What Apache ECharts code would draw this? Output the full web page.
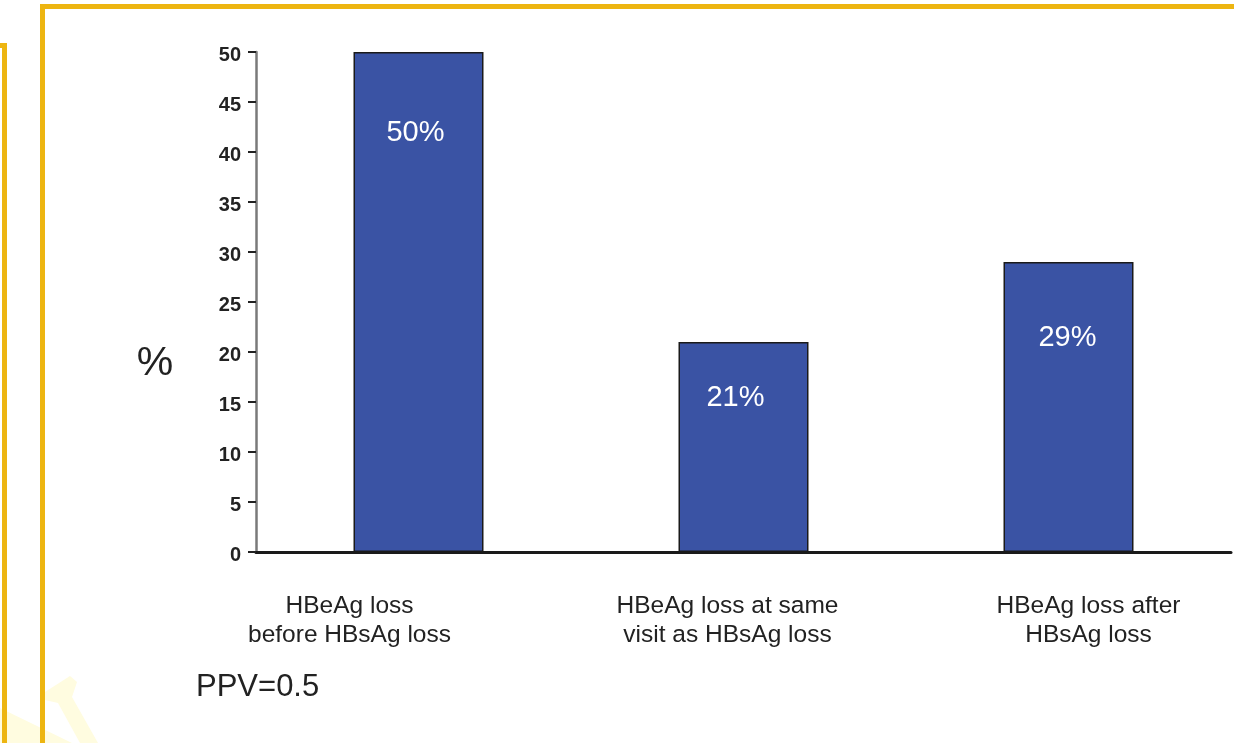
<!DOCTYPE html>
<html>
<head>
<meta charset="utf-8">
<script src="https://cdn.jsdelivr.net/npm/echarts@6/dist/echarts.min.js"></script>
<style>
html,body{margin:0;padding:0;background:#fff;}
#chart{width:1234px;height:743px;}
</style>
</head>
<body>
<div id="chart"></div>
<script>
const categories = ['HBeAg loss\nbefore HBsAg loss', 'HBeAg loss at same\nvisit as HBsAg loss', 'HBeAg loss after\nHBsAg loss'];
const values = [50, 21, 29];
const valueLabels = ['50%', '21%', '29%'];
const yTicks = {min: 0, max: 50, interval: 5};

// layout constants (pixel offsets, not data)
const labelOffsetsY = [81, 56, 76];
const labelOffsetsX = [-3, -8, -1];
const catLabelShiftX = [-69, -16, 20];

const chart = echarts.init(document.getElementById('chart'), null, {renderer: 'canvas'});
const yellow = '#EDB511';
const font = '"Liberation Sans", Arial, sans-serif';

const staticGraphics = [
  {type: 'polygon', silent: true, z: -10, shape: {points: [[0,708],[0,743],[72,743]]}, style: {fill: '#FFFCE0'}},
  {type: 'polygon', silent: true, z: -10, shape: {points: [[45,692],[70,676],[77,682],[72,697],[98,743],[80,743],[58,703],[45,700]]}, style: {fill: '#FFFCE0'}},
  {type: 'rect', silent: true, shape: {x: 40, y: 4, width: 1194, height: 5}, style: {fill: yellow}},
  {type: 'rect', silent: true, shape: {x: 40, y: 4, width: 5, height: 739}, style: {fill: yellow}},
  {type: 'rect', silent: true, shape: {x: 0, y: 43, width: 7, height: 5}, style: {fill: yellow}},
  {type: 'rect', silent: true, shape: {x: 2, y: 43, width: 5, height: 700}, style: {fill: yellow}},
  {type: 'text', silent: true, x: 155, y: 364, style: {text: '%', fontFamily: font, fontSize: 41, fill: '#222', align: 'center', verticalAlign: 'middle'}},
  {type: 'text', silent: true, x: 196, y: 687, style: {text: 'PPV=0.5', fontFamily: font, fontSize: 31, fill: '#222', align: 'left', verticalAlign: 'middle'}}
];

chart.setOption({
  backgroundColor: '#ffffff',
  animation: false,
  grid: {left: 256, right: 3, top: 52, bottom: 191, containLabel: false},
  xAxis: {
    type: 'category',
    data: categories,
    axisLine: {lineStyle: {color: '#1a1a1a', width: 3}},
    axisTick: {show: false},
    axisLabel: {show: false}
  },
  yAxis: {
    type: 'value',
    min: yTicks.min, max: yTicks.max, interval: yTicks.interval,
    splitLine: {show: false},
    axisLine: {show: true, lineStyle: {color: '#7a7a7a', width: 2.5}},
    axisTick: {show: true, length: 8, lineStyle: {color: '#222', width: 2}},
    axisLabel: {
      margin: 15,
      formatter: v => '{a|' + v + '}',
      rich: {a: {fontFamily: font, fontSize: 20, fontWeight: 'bold', color: '#222', padding: [6, 0, 0, 0]}}
    }
  },
  series: [{
    type: 'bar',
    barWidth: '40%',
    z: 1,
    itemStyle: {color: '#3A53A4', borderColor: '#1a1a1a', borderWidth: 1.5},
    data: values.map((v, i) => ({
      value: v,
      label: {
        show: true,
        position: ['50%', labelOffsetsY[i]],
        offset: [labelOffsetsX[i], 0],
        align: 'center',
        verticalAlign: 'middle',
        formatter: valueLabels[i],
        color: '#ffffff',
        fontFamily: font,
        fontSize: 29
      }
    }))
  }],
  graphic: staticGraphics
});

const baseY = chart.convertToPixel({yAxisIndex: 0}, 0);
const catTexts = categories.map((c, i) => {
  const cx = chart.convertToPixel({xAxisIndex: 0}, c);
  return {
    type: 'text', silent: true, x: cx + catLabelShiftX[i], y: baseY + 40,
    style: {text: c, fontFamily: font, fontSize: 24.5, lineHeight: 29, fill: '#222', align: 'center', verticalAlign: 'top'}
  };
});
chart.setOption({graphic: staticGraphics.concat(catTexts)}, {replaceMerge: ['graphic']});
</script>
</body>
</html>
